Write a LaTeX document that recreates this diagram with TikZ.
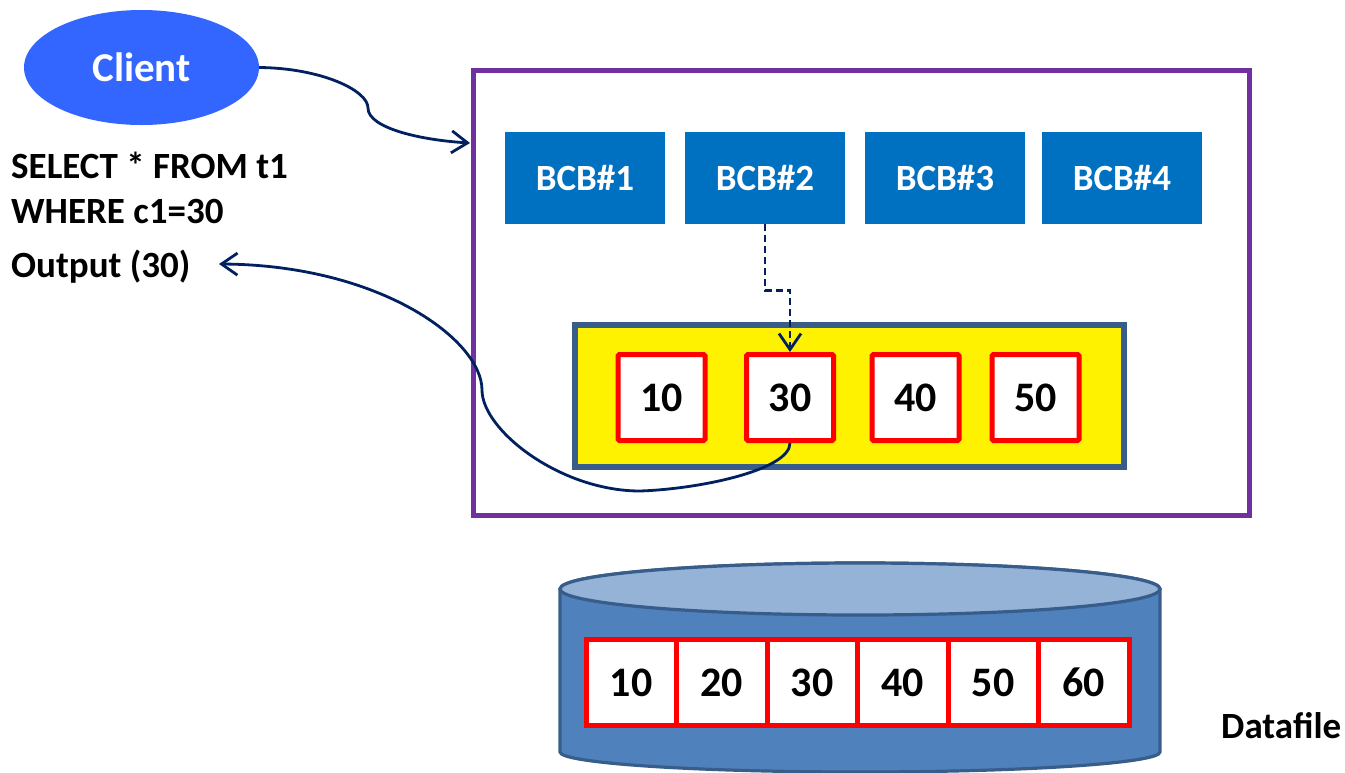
\documentclass[tikz,border=0pt]{standalone}
\usepackage{fontspec}
\setmainfont{Carlito}
\usetikzlibrary{shapes.geometric,arrows.meta}
\definecolor{clientblue}{HTML}{3366FF}
\definecolor{navy}{HTML}{002060}
\definecolor{poolpurple}{HTML}{7030A0}
\definecolor{bcbblue}{HTML}{0070C0}
\definecolor{slate}{HTML}{385D8A}
\definecolor{cylbody}{HTML}{4F81BD}
\definecolor{cyltop}{HTML}{95B3D7}
\begin{document}
\begin{tikzpicture}[x=1pt,y=-1pt,
  lbl/.style={font=\fontsize{37}{44}\selectfont\bfseries, inner sep=0pt, anchor=base west},
  bcb/.style={fill=bcbblue, minimum width=160pt, minimum height=92pt, inner sep=0pt, text=white, font=\fontsize{37}{44}\selectfont\bfseries},
  cell/.style={draw=red, line width=5pt, fill=white, rounded corners=1.5pt, minimum width=87pt, minimum height=86pt, inner sep=0pt, font=\fontsize{42}{50}\selectfont\bfseries},
  dcell/.style={draw=red, line width=5pt, fill=white, minimum width=90.5pt, minimum height=86pt, inner sep=0pt, font=\fontsize{42}{50}\selectfont\bfseries},
  arr/.style={draw=navy, line width=2.8pt, -{Straight Barb[length=16pt,width=22pt]}},
  cyl/.style={draw=slate, line width=3.2pt}
]
\useasboundingbox (0,0) rectangle (1345,772);

% client
\node[ellipse, fill=clientblue, minimum width=235pt, minimum height=115pt, inner sep=0pt, text=white, font=\fontsize{41}{49}\selectfont\bfseries] (client) at (141.5,67.5) {Client};
\node[lbl] (q1) at (11,178) {SELECT * FROM t1};
\node[lbl] (q2) at (11,223) {WHERE c1=30};
\node[lbl] (out) at (11,277) {Output (30)};

% buffer pool
\node[draw=poolpurple, line width=5pt, minimum width=776pt, minimum height=445pt, inner sep=0pt] (pool) at (861.5,293) {};
\node[bcb] (b1) at (585,178) {BCB\#1};
\node[bcb] (b2) at (765,178) {BCB\#2};
\node[bcb] (b3) at (945,178) {BCB\#3};
\node[bcb] (b4) at (1122,178) {BCB\#4};

\node[draw=slate, fill=yellow, line width=5.5pt, minimum width=549pt, minimum height=142pt, inner sep=0pt] (buf) at (849.5,396) {};
\node[cell] (c10) at (661.5,397.5) {10};
\node[cell] (c30) at (790,397.5) {30};
\node[cell] (c40) at (915.5,397.5) {40};
\node[cell] (c50) at (1035.5,397.5) {50};

% datafile cylinder
\path[cyl, fill=cylbody] (560,589) -- (560,752) arc[start angle=180, end angle=0, x radius=300, y radius=20] -- (1160,589) arc[start angle=0, end angle=-180, x radius=300, y radius=26] -- cycle;
\draw[cyl, fill=cyltop] (860,589) ellipse[x radius=300, y radius=26];
\node[dcell] (d10) at (631.25,682.5) {10};
\node[dcell] (d20) at (721.75,682.5) {20};
\node[dcell] (d30) at (812.25,682.5) {30};
\node[dcell] (d40) at (902.75,682.5) {40};
\node[dcell] (d50) at (993.25,682.5) {50};
\node[dcell] (d60) at (1083.75,682.5) {60};
\node[lbl] (df) at (1221,738) {Datafile};

% connectors
\coordinate (inpt) at (470,143);
\coordinate (outtip) at (219,264);
\draw[arr] (client.east) .. controls (320,68) and (368,90) .. (368,108) .. controls (368,128) and (420,140) .. (inpt);
\draw[arr, dash pattern=on 7pt off 4pt] (b2.south) -- ++(0,66) -| (c30.north);
\draw[arr] (c30.south) .. controls (790,470) and (700,489) .. (640,491) .. controls (560,491) and (482,430) .. (482,390) .. controls (482,340) and (380,265) .. (outtip);
\end{tikzpicture}
\end{document}
